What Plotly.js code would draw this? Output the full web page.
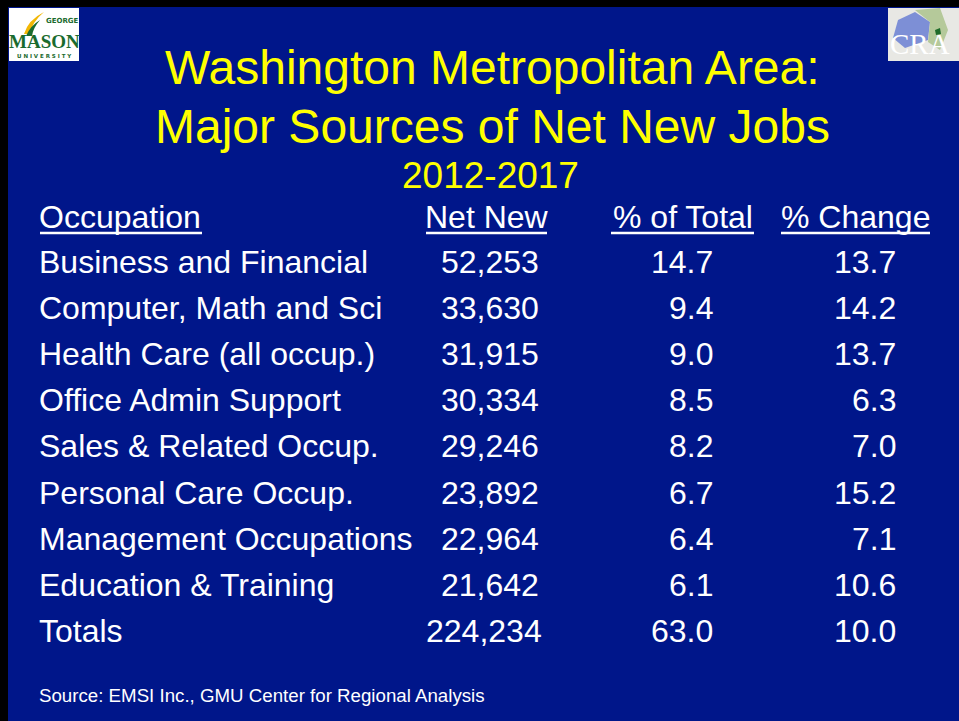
<!DOCTYPE html>
<html>
<head>
<meta charset="utf-8">
<script src="https://cdn.plot.ly/plotly-3.0.1.min.js"></script>
<style>
html,body{margin:0;padding:0;background:#00168A;overflow:hidden;}
#chart{width:959px;height:721px;}
</style>
</head>
<body>
<div id="chart"></div>
<script>
// ---- data ----
const titleLines = ["Washington Metropolitan Area:", "Major Sources of Net New Jobs"];
const subtitle = "2012-2017";
const headers = ["Occupation", "Net New", "% of Total", "% Change"];
const occupations = [
  "Business and Financial",
  "Computer, Math and Sci",
  "Health Care (all occup.)",
  "Office Admin Support",
  "Sales & Related Occup.",
  "Personal Care Occup.",
  "Management Occupations",
  "Education & Training"
];
const netNew = [52253, 33630, 31915, 30334, 29246, 23892, 22964, 21642];
const pctTotal = [14.7, 9.4, 9.0, 8.5, 8.2, 6.7, 6.4, 6.1];
const pctChange = [13.7, 14.2, 13.7, 6.3, 7.0, 15.2, 7.1, 10.6];
const totalLabel = "Totals";
const totalNetNew = 224234;
const totalPctTotal = 63.0;
const totalPctChange = 10.0;
const sourceNote = "Source: EMSI Inc., GMU Center for Regional Analysis";

// ---- layout ----
const FONT = "Liberation Sans, Arial, Helvetica, sans-serif";
const BG = "#00168A";
const YEL = "#FFFF00";
const WHITE = "#FFFFFF";

const rowNames = occupations.concat([totalLabel]);
const rowNet = netNew.concat([totalNetNew]);
const rowPct = pctTotal.concat([totalPctTotal]);
const rowChg = pctChange.concat([totalPctChange]);

const fmtInt = v => v.toLocaleString("en-US");
const fmt1 = v => v.toFixed(1);

const PAD = 3; // annotation inner padding compensation
const ann = [];
function txt(x, y, t, size, color, xanchor, family) {
  xanchor = xanchor || "center";
  const dx = xanchor === "left" ? -PAD : (xanchor === "right" ? PAD : 0);
  ann.push({x: x + dx, y: y, xref: "x", yref: "y", text: t, showarrow: false,
    xanchor: xanchor, yanchor: "middle",
    font: {family: family || FONT, size: size, color: color}});
}

// Titles
txt(492, 67, titleLines[0], 48, YEL);
txt(492, 126, titleLines[1], 48, YEL);
txt(490, 175, subtitle, 37, YEL);

// Headers
const headerY = 217;
txt(40, headerY, headers[0], 32, WHITE, "left");
txt(486.5, headerY, headers[1], 32, WHITE, "center");
txt(682.5, headerY, headers[2], 32, WHITE, "center");
txt(855.5, headerY, headers[3], 32, WHITE, "center");

// Rows
const rowTop = 262, rowStep = 46.1;
rowNames.forEach((name, i) => {
  const y = rowTop + i * rowStep;
  txt(40, y, name, 32, WHITE, "left");
  txt(i === rowNames.length - 1 ? 541 : 538, y, fmtInt(rowNet[i]), 32, WHITE, "right");
  txt(712, y, fmt1(rowPct[i]), 32, WHITE, "right");
  txt(895, y, fmt1(rowChg[i]), 32, WHITE, "right");
});

// Source
txt(40, 695, sourceNote, 18.7, WHITE, "left");

// Logos
txt(47, 21, "<b>GEORGE</b>", 7, "#1A6B2E", "left", "DejaVu Sans, sans-serif");
txt(44, 41, "<b>MASON</b>", 19, "#1A6B2E", "center", "Liberation Serif, Times New Roman, serif");
txt(44, 56, "<b>U N I V E R S I T Y</b>", 5.5, "#1A6B2E", "center", "DejaVu Sans, sans-serif");
txt(891, 44, "CRA", 29, WHITE, "left", "Liberation Serif, Times New Roman, serif");

const underlineY = 233;
const shapes = [
  // black border
  {type: "rect", xref: "x", yref: "y", x0: 0, x1: 8, y0: 0, y1: 721, fillcolor: "#000", line: {width: 0}, layer: "below"},
  {type: "rect", xref: "x", yref: "y", x0: 0, x1: 959, y0: 0, y1: 7, fillcolor: "#000", line: {width: 0}, layer: "below"},
  // GMU logo
  {type: "rect", xref: "x", yref: "y", x0: 9, x1: 79, y0: 8, y1: 61, fillcolor: "#FFFFFF", line: {width: 0}, layer: "below"},
  {type: "path", xref: "x", yref: "y", path: "M 24 34 Q 28 20 44 12 Q 32 22 30 34 Z", fillcolor: "#F2B705", line: {width: 0}, layer: "below"},
  {type: "path", xref: "x", yref: "y", path: "M 26 36 Q 30 26 40 20 Q 33 28 32 36 Z", fillcolor: "#1A6B2E", line: {width: 0}, layer: "below"},
  // CRA logo
  {type: "rect", xref: "x", yref: "y", x0: 888, x1: 959, y0: 8, y1: 61, fillcolor: "#E8E8E4", line: {width: 0}, layer: "below"},
  {type: "path", xref: "x", yref: "y", path: "M 898 20 L 915 12 L 930 22 L 928 40 L 905 48 L 893 38 Z", fillcolor: "#7D8FD6", line: {width: 0}, layer: "below"},
  {type: "path", xref: "x", yref: "y", path: "M 915 10 L 940 8 L 948 30 L 940 50 L 928 42 L 930 22 Z", fillcolor: "#B5C99A", line: {width: 0}, layer: "below"},
  {type: "path", xref: "x", yref: "y", path: "M 935 30 L 940 28 L 941 34 L 936 35 Z", fillcolor: "#1E6B2A", line: {width: 0}, layer: "below"},
  // header underlines
  {type: "line", xref: "x", yref: "y", x0: 40, x1: 202, y0: underlineY, y1: underlineY, line: {color: WHITE, width: 2.5}},
  {type: "line", xref: "x", yref: "y", x0: 426, x1: 547, y0: underlineY, y1: underlineY, line: {color: WHITE, width: 2.5}},
  {type: "line", xref: "x", yref: "y", x0: 611, x1: 754, y0: underlineY, y1: underlineY, line: {color: WHITE, width: 2.5}},
  {type: "line", xref: "x", yref: "y", x0: 781, x1: 930, y0: underlineY, y1: underlineY, line: {color: WHITE, width: 2.5}}
];

const layout = {
  width: 959, height: 721,
  margin: {l: 0, r: 0, t: 0, b: 0, pad: 0},
  paper_bgcolor: BG, plot_bgcolor: BG,
  showlegend: false,
  xaxis: {range: [0, 959], visible: false, fixedrange: true},
  yaxis: {range: [721, 0], visible: false, fixedrange: true},
  annotations: ann,
  shapes: shapes
};

Plotly.newPlot("chart", [{type: "scatter", x: [], y: [], hoverinfo: "skip"}], layout, {staticPlot: true, displayModeBar: false});
</script>
</body>
</html>
